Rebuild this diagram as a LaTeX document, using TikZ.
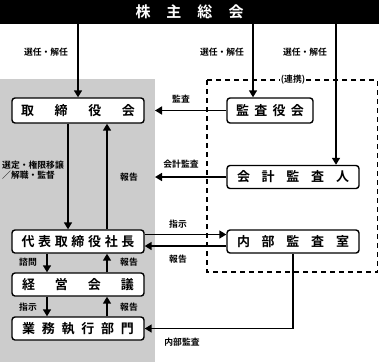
\documentclass[tikz,border=0pt]{standalone}
\usepackage{fontspec}
\setmainfont{Noto Sans CJK JP}[BoldFont={Noto Sans CJK JP Bold}]
\usetikzlibrary{arrows.meta,calc}
\definecolor{panelgray}{RGB}{204,204,204}
\newcommand{\spr}[2]{\makebox[#1]{#2}}
\tikzset{
  box/.style={draw=black, line width=1.4pt, rounded corners=3pt, fill=white, minimum width=132pt, minimum height=23pt, inner sep=0pt, font=\fontsize{13}{13}\selectfont\bfseries},
  lbl/.style={font=\fontsize{8.8}{10.5}\selectfont\bfseries, inner sep=1pt, align=left},
  arr/.style={line width=1.6pt, -{Triangle[length=7pt,width=8pt]}},
  ln/.style={line width=1.6pt}
}
\begin{document}
\begin{tikzpicture}[x=1pt,y=-1pt]
\useasboundingbox (0,0) rectangle (379,362);
\fill[panelgray] (0,79) rectangle (155,362);
\node[fill=black, minimum width=379pt, minimum height=24pt, inner sep=0pt, text=white, font=\fontsize{15}{15}\selectfont\bfseries] (kabu) at (189.5,12) {\spr{108pt}{株\hfill 主\hfill 総\hfill 会}};
% dashed region
\draw[line width=1.3pt, dash pattern=on 5pt off 4pt] (207,80) rectangle (377.5,272);
\node[lbl, fill=white] (renkei) at (293,80) {(連携)};
% boxes
\node[box, minimum height=25pt] (tori) at (78,110.5) {\spr{114pt}{取\hfill 締\hfill 役\hfill 会}};
\node[box, minimum width=86pt, minimum height=25pt] (kansa) at (270,110.5) {\spr{68pt}{監\hfill 査\hfill 役\hfill 会}};
\node[box] (kaikei) at (293,177) {\spr{112pt}{会\hfill 計\hfill 監\hfill 査\hfill 人}};
\node[box] (daihyo) at (78,241.5) {\spr{113pt}{代\hfill 表\hfill 取\hfill 締\hfill 役\hfill 社\hfill 長}};
\node[box] (naibu) at (293,241.5) {\spr{112pt}{内\hfill 部\hfill 監\hfill 査\hfill 室}};
\node[box] (keiei) at (78,284.5) {\spr{112pt}{経\hfill 営\hfill 会\hfill 議}};
\node[box] (gyomu) at (78,328.5) {\spr{112pt}{業\hfill 務\hfill 執\hfill 行\hfill 部\hfill 門}};
% coordinates
\coordinate (c3) at (336,0);
\coordinate (k1) at (253,0);
\coordinate (panelA) at (155,110.5);
\coordinate (panelB) at (155,177);
\coordinate (down1) at (68,0);
\coordinate (up1) at (107,0);
\coordinate (down2) at (47,0);
\coordinate (naiX) at (293,0);
% top arrows
\draw[arr] (tori.north |- kabu.south) -- (tori.north);
\draw[arr] (k1 |- kabu.south) -- (k1 |- kansa.north);
\draw[arr] (c3 |- kabu.south) -- (c3 |- kaikei.north);
\node[lbl] (l1) at (46,52) {選任・解任};
\node[lbl] (l2) at (222,52) {選任・解任};
\node[lbl] (l3) at (305,52) {選任・解任};
% audit arrows
\draw[arr] (kansa.west) -- (panelA);
\node[lbl] (l4) at (181,99) {監査};
\draw[arr] (kaikei.west) -- (panelB);
\node[lbl] (l5) at (181,164) {会計監査};
% tori <-> daihyo
\draw[arr] (down1 |- tori.south) -- (down1 |- daihyo.north);
\draw[arr] (up1 |- daihyo.north) -- (up1 |- tori.south);
\node[lbl, align=left] (l6) at (33,170) {選定・権限移譲\\／解職・監督};
\node[lbl] (l7) at (129,177) {報告};
% daihyo <-> naibu
\draw[arr] ($(daihyo.east)+(0,-7)$) -- ($(naibu.west)+(0,-7)$);
\draw[arr] ($(naibu.west)+(0,4.5)$) -- ($(daihyo.east)+(0,4.5)$);
\node[lbl] (l8) at (178,224) {指示};
\node[lbl] (l9) at (178,259) {報告};
% daihyo <-> keiei
\draw[arr] (down2 |- daihyo.south) -- (down2 |- keiei.north);
\draw[arr] (up1 |- keiei.north) -- (up1 |- daihyo.south);
\node[lbl] (l10) at (28,262) {諮問};
\node[lbl] (l11) at (129,262) {報告};
% keiei <-> gyomu
\draw[arr] (down2 |- keiei.south) -- (down2 |- gyomu.north);
\draw[arr] (up1 |- gyomu.north) -- (up1 |- keiei.south);
\node[lbl] (l12) at (28,307) {指示};
\node[lbl] (l13) at (129,307) {報告};
% internal audit
\draw[arr] (naiX |- naibu.south) -- (naiX |- gyomu.east) -- (gyomu.east);
\node[lbl] (l14) at (182,342) {内部監査};
\end{tikzpicture}
\end{document}
